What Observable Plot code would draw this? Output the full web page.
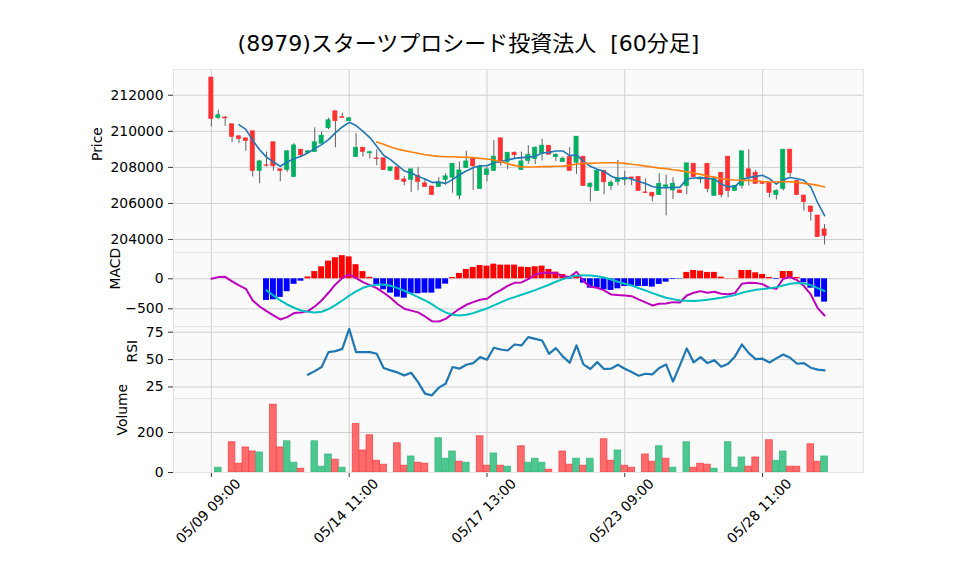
<!DOCTYPE html>
<html><head><meta charset="utf-8">
<script src="https://cdn.jsdelivr.net/npm/d3@7"></script>
<script src="https://cdn.jsdelivr.net/npm/@observablehq/plot@0.6"></script>
<style>
body{margin:0;background:#fff;}
#wrap{position:relative;width:958px;height:575px;overflow:hidden;font-family:"DejaVu Sans","Noto Sans CJK JP",sans-serif;}
#title{position:absolute;left:0;width:937px;top:25px;text-align:center;font-size:22px;white-space:pre;color:#000;font-family:"DejaVu Sans","Noto Sans CJK JP",sans-serif;}
.panel{position:absolute;left:0;}
.panel svg{overflow:visible;}
</style></head><body>
<div id="wrap"><div id="title">(8979)スターツプロシード投資法人  [60分足]</div></div>
<script>
// ---- data (60-minute bars, index 0 = 05/09 09:00) ----
const open = [212980,210740,210760,210390,209720,209610,210000,207800,208110,209390,
207890,207850,207460,208980,208810,208850,209310,210170,211110,210780,
210560,208570,209090,208780,208500,208500,207800,208000,207330,207310,
207520,207110,206940,206910,207300,207430,206430,207960,208460,206810,
207570,207800,209610,208300,208810,207850,208350,208460,208760,209200,
208570,208300,208570,208260,208590,206910,206690,207810,206960,207200,
207300,207440,207460,206610,206590,206460,206910,206720,206720,206960,
208200,207330,208200,206410,207690,208590,206690,206980,207890,207700,
207130,207130,206460,206800,208980,207240,206440,205830,205330,204560];
const high = [212980,211170,210830,210390,209760,209610,210000,208390,208850,209390,
207890,208940,209310,208980,208940,210200,209960,210720,211110,211000,
210760,209870,209090,208900,208980,208500,208000,208000,207500,207890,
207980,207370,206940,207430,207650,208200,208300,208890,208460,208120,
208000,209480,209610,208820,208850,208850,209200,209130,209570,209200,
208760,208570,209090,209700,208590,207150,207810,207810,207260,208390,
207780,207440,207460,207350,206590,207650,207570,207430,206720,208220,
208200,207450,208200,207350,207690,208590,206980,208890,208980,207820,
207150,207170,206760,208980,208980,207280,206440,205830,205330,204830];
const low = [210240,210670,210280,209370,209320,208890,207460,207090,208020,207800,
207200,207720,207460,208540,208760,208830,209310,210090,209090,210740,
210560,208570,208570,208460,208090,207850,207760,207310,206980,206610,
206700,206900,206460,206900,207000,206570,206200,207960,206720,206810,
207190,207800,208060,207870,208430,207850,208170,208150,208350,208700,
208330,208300,207800,207610,206960,206090,206690,206480,206720,206980,
206980,206980,206690,206570,206090,206460,205310,206220,206570,206480,
207460,207090,206590,206410,206310,206310,206690,206800,206980,207060,
207060,206310,206190,206690,207460,206430,205570,205020,204130,203700];
const close = [210690,210890,210720,209690,209570,209460,207800,208330,208090,208060,
207800,208890,209220,208670,208890,209390,209760,210610,210560,210740,
210720,209090,208850,208840,208460,207850,208000,207310,207200,207890,
207190,206910,206460,207170,207500,208200,207830,208330,208060,208040,
207890,208590,208240,208810,208670,208330,208700,209090,209200,208700,
208700,208480,207800,209700,206960,207090,207810,207170,207150,207400,
207390,207370,206690,206570,206390,207090,207000,207090,206570,208220,
207460,207430,206810,207330,206460,206690,206980,208890,207460,207090,
207090,206590,206700,208980,207690,206460,206070,205520,204130,204190];
const volume = [0,24,0,151,44,125,105,100,0,339,
125,156,49,19,0,156,29,90,64,24,
0,242,110,186,59,39,0,146,34,80,
49,44,0,171,69,105,54,49,0,181,
34,95,34,29,0,131,49,69,49,14,
0,105,39,69,34,69,0,166,59,110,
34,24,0,90,54,131,69,24,0,151,
24,44,39,19,0,151,24,75,29,75,
0,161,59,105,29,29,0,141,54,80];
// moving averages (5 and 25 bars)
const ma5 = [null,null,null,null,
210370,210110,209500,208980,208570,208300,208060,208300,208480,208610,
208800,209040,209260,209540,209910,210240,210500,210320,210000,209650,
209170,208670,208430,208110,207800,207690,207500,207350,207170,207170,
207110,207320,207590,207800,207980,208090,208090,208260,208330,208410,
208500,208540,208570,208610,208800,208830,208910,208910,208650,208690,
208330,208060,207890,207780,207520,207350,207430,207350,207220,207110,
206940,206870,206870,206890,206890,207350,207410,207430,207370,207370,
207060,206930,206930,207320,207430,207500,207560,207370,207070,207320,
207440,207370,207280,206910,206040,205320];
const ma25 = [null,null,null,null,null,null,null,null,null,null,null,null,
null,null,null,null,null,null,null,null,null,null,null,null,
209410,209280,209130,209020,208930,208850,208780,208700,208650,208610,
208590,208590,208570,208560,208540,208500,208460,208410,208320,208200,
208110,208020,208020,208020,208040,208040,208060,208070,208110,208190,
208220,208220,208240,208260,208260,208260,208220,208170,208130,208070,
208020,207960,207930,207870,207820,207760,207690,207610,207520,207460,
207370,207330,207300,207280,207280,207260,207220,207190,207190,207220,
207200,207170,207110,207070,207000,206910];
// MACD panel
const macd = [0,28,33,-44,-111,-167,-361,-461,-539,-611,
-678,-639,-572,-561,-539,-461,-361,-233,-94,11,
72,11,-56,-106,-156,-233,-317,-420,-500,-530,
-560,-628,-706,-711,-667,-583,-500,-433,-389,-350,
-333,-250,-189,-117,-67,-61,-6,72,100,106,
94,44,28,117,-39,-133,-150,-194,-261,-272,
-278,-289,-344,-394,-444,-417,-411,-389,-394,-278,
-233,-206,-233,-217,-250,-256,-239,-83,-67,-72,
-89,-150,-167,0,28,-22,-122,-261,-489,-611];
const signal = [null,null,null,null,null,null,null,null,
-194,-278,-361,-428,-483,-528,-550,-561,-550,-506,
-439,-361,-283,-211,-150,-117,-100,-94,-117,-156,
-200,-250,-306,-361,-422,-500,-561,-600,-611,-600,
-572,-533,-494,-444,-394,-344,-306,-267,-228,-189,
-144,-100,-50,-6,28,50,61,56,44,22,
-11,-50,-83,-111,-156,-194,-239,-278,-317,-339,
-361,-367,-372,-361,-350,-333,-317,-294,-272,-233,
-206,-183,-172,-156,-139,-111,-83,-72,-78,-106,-156,-206];
const hist = [null,null,null,null,null,null,null,null,
-361,-350,-310,-215,-92,-40,30,120,200,295,
350,385,365,235,120,25,-100,-183,-239,-306,
-322,-250,-250,-239,-239,-172,-89,22,89,156,
189,222,211,244,228,228,228,194,189,200,
211,156,111,72,-8,40,-72,-156,-156,-183,
-194,-167,-128,-128,-128,-128,-139,-94,-56,-11,
-6,106,139,128,106,106,28,5,5,139,
139,100,72,22,-11,122,122,22,-67,-156,-306,-389];
// RSI (14)
const rsi = [null,null,null,null,null,null,null,null,null,null,null,null,null,null,
36.2,39.5,43.2,56.8,57.7,59.8,78.0,56.8,56.8,56.8,
55.3,42.3,40.2,38.3,35.6,38.0,29.5,19.0,17.4,24.4,
28.0,43.2,41.7,45.3,46.8,52.3,49.9,60.8,59.2,58.3,
63.8,62.9,70.5,68.9,67.4,55.3,60.5,52.9,47.1,62.9,
45.6,41.4,47.7,41.4,41.7,45.3,41.7,38.6,35.3,37.1,
36.5,42.3,45.6,29.9,44.7,60.2,47.4,52.3,46.8,49.5,
43.5,46.2,52.9,63.8,55.9,50.5,50.8,47.4,51.1,54.7,
51.7,46.2,46.8,42.6,40.8,40.2];
// x tick positions (bar index) and labels
const xTickIdx = [0, 20, 40, 60, 80];
const xTickLabels = ["05/09 09:00", "05/14 11:00", "05/17 13:00", "05/23 09:00", "05/28 11:00"];
const priceTicks = [204000, 206000, 208000, 210000, 212000];
const macdTicks = [-500, 0];
const rsiTicks = [25, 50, 75];
const volTicks = [0, 200];

// ---- build ----
const FONT = '"DejaVu Sans","Noto Sans CJK JP",sans-serif';
const UP = "#00b060", DN = "#fe3032", WICK = "#606060";
const VUP = "#4dc790", VDN = "#fd6b6c";
const GRID = "#d0d0d0";
const xDomain = [-5.5, 94.65];
const N = close.length;
const rows = d3.range(N).map(i => ({
  i, o: open[i], h: high[i], l: low[i], c: close[i], v: volume[i],
  m5: ma5[i], m25: ma25[i], macd: macd[i], sig: signal[i], hist: hist[i], rsi: rsi[i],
  vup: i === 0 ? true : close[i] >= close[i - 1]
}));
const labelOf = new Map(xTickIdx.map((d, k) => [d, xTickLabels[k]]));
const minus = d => d < 0 ? "\u2212" + Math.abs(d) : String(d);

function panel({top, height, domain, ticks, fmt, label, labelDx, marks, mb = 0}) {
  const svg = Plot.plot({
    width: 958, height: height + mb,
    marginLeft: 173, marginRight: 95, marginTop: 0, marginBottom: mb,
    x: {domain: xDomain, axis: null, label: null},
    y: {domain, axis: null, label: null},
    color: {type: "identity"},
    style: {background: "transparent", fontFamily: FONT, fontSize: "13.9px", color: "#000", overflow: "visible"},
    marks: [
      Plot.frame({fill: "#fafafa", stroke: null}),
      Plot.gridX(xTickIdx, {stroke: GRID, strokeOpacity: 1, strokeWidth: 1}),
      Plot.gridY(ticks, {stroke: GRID, strokeOpacity: 1, strokeWidth: 1}),
      ...marks,
      Plot.frame({stroke: "#e4e4e4", strokeWidth: 1}),
      Plot.axisY(ticks, {tickSize: 5, tickPadding: 5, tickFormat: fmt, fontSize: 13.9, stroke: "#333", label: null}),
      Plot.text([label], {frameAnchor: "left", dx: labelDx, rotate: -90, fontSize: 13.9, fill: "#000"})
    ]
  });
  const div = document.createElement("div");
  div.className = "panel";
  div.style.top = top + "px";
  div.appendChild(svg);
  document.getElementById("wrap").appendChild(div);
}

// Price panel
panel({
  top: 69, height: 183, domain: [203278, 213428], ticks: priceTicks, fmt: d => String(d),
  label: "Price", labelDx: -76,
  marks: [
    Plot.ruleX(rows, {x: "i", y1: "l", y2: "h", stroke: WICK, strokeWidth: 1}),
    Plot.rect(rows, {x1: d => d.i - 0.3, x2: d => d.i + 0.3, y1: "o", y2: "c",
      fill: d => d.c >= d.o ? UP : DN, stroke: d => d.c >= d.o ? UP : DN, strokeWidth: 0.7}),
    Plot.line(rows, {x: "i", y: "m5", stroke: "#1f77b4", strokeWidth: 1.6}),
    Plot.line(rows, {x: "i", y: "m25", stroke: "#ff7f0e", strokeWidth: 1.6})
  ]
});

// MACD panel
panel({
  top: 252, height: 74, domain: [-795, 438], ticks: macdTicks, fmt: minus,
  label: "MACD", labelDx: -58,
  marks: [
    Plot.rect(rows.filter(d => d.hist != null), {x1: d => d.i - 0.43, x2: d => d.i + 0.43, y1: () => 0, y2: "hist",
      fill: d => d.hist >= 0 ? "#ff0000" : "#0000ff"}),
    Plot.line(rows, {x: "i", y: "macd", stroke: "#bf00bf", strokeWidth: 2}),
    Plot.line(rows, {x: "i", y: "sig", stroke: "#00bfbf", strokeWidth: 2})
  ]
});

// RSI panel
panel({
  top: 326, height: 72, domain: [14.5, 80.2], ticks: rsiTicks, fmt: d => String(d),
  label: "RSI", labelDx: -41,
  marks: [
    Plot.line(rows, {x: "i", y: "rsi", stroke: "#1f77b4", strokeWidth: 2.2})
  ]
});

// Volume panel (with x axis)
panel({
  top: 398, height: 74, domain: [0, 370], ticks: volTicks, fmt: d => String(d),
  label: "Volume", labelDx: -51, mb: 103,
  marks: [
    Plot.rect(rows.filter(d => d.v > 0), {x1: d => d.i - 0.48, x2: d => d.i + 0.48, y1: () => 0, y2: "v",
      fill: d => d.vup ? VUP : VDN, stroke: d => d.vup ? "#3dbb80" : "#f5484a", strokeWidth: 0.8}),
    Plot.axisX(xTickIdx, {tickSize: 5, tickFormat: () => "", stroke: "#333", label: null}),
    Plot.text(xTickIdx, {x: d => d, text: d => labelOf.get(d), frameAnchor: "bottom",
      rotate: -45, textAnchor: "end", dx: 30, dy: 12, fontSize: 13.9, fill: "#000"})
  ]
});
</script>
</body></html>
